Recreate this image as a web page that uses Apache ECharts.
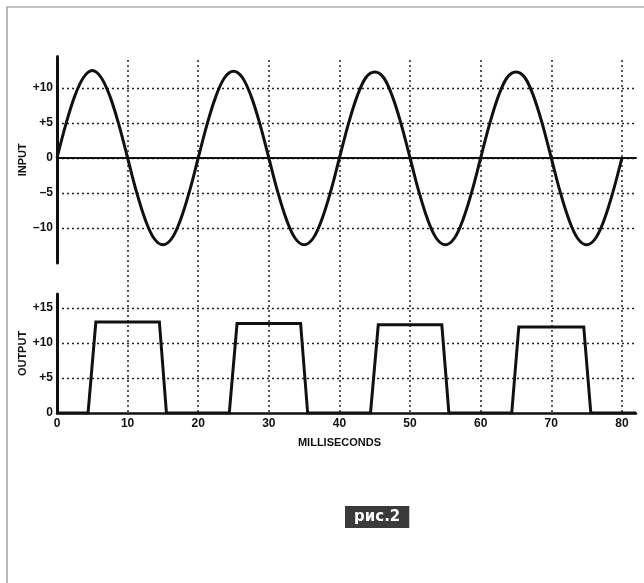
<!DOCTYPE html>
<html>
<head>
<meta charset="utf-8">
<script src="https://cdn.jsdelivr.net/npm/echarts@6/dist/echarts.min.js"></script>
<style>
  html, body { margin: 0; padding: 0; background: #fff; }
  #chart { width: 644px; height: 583px; }
</style>
</head>
<body>
<div id="chart"></div>
<script>
// input signal (ms, volts)
const inputTime = [
  0, 1.25, 2.5, 3.75, 5, 6.25, 7.5, 8.75, 10, 11.25, 12.5, 13.75, 15, 16.25, 17.5, 18.75,
  20, 21.25, 22.5, 23.75, 25, 26.25, 27.5, 28.75, 30, 31.25, 32.5, 33.75, 35, 36.25, 37.5, 38.75,
  40, 41.25, 42.5, 43.75, 45, 46.25, 47.5, 48.75, 50, 51.25, 52.5, 53.75, 55, 56.25, 57.5, 58.75,
  60, 61.25, 62.5, 63.75, 65, 66.25, 67.5, 68.75, 70, 71.25, 72.5, 73.75, 75, 76.25, 77.5, 78.75,
  80
]
const inputValue = [
  0, 4.8, 8.8, 11.5, 12.5, 11.5, 8.8, 4.8, 0, -4.8, -8.8, -11.5, -12.4, -11.5, -8.8, -4.8,
  0, 4.8, 8.8, 11.5, 12.4, 11.5, 8.8, 4.8, 0, -4.8, -8.8, -11.5, -12.4, -11.5, -8.8, -4.8,
  0, 4.8, 8.8, 11.5, 12.3, 11.5, 8.8, 4.8, 0, -4.8, -8.8, -11.5, -12.4, -11.5, -8.8, -4.8,
  0, 4.8, 8.8, 11.5, 12.3, 11.5, 8.8, 4.8, 0, -4.8, -8.8, -11.5, -12.4, -11.5, -8.8, -4.8,
  0
]

// output signal, bottom panel
const outputTime = [0, 4.4, 5.5, 14.5, 15.5, 24.4, 25.5, 34.5, 35.5, 44.4, 45.5, 54.5, 55.5, 64.4, 65.4, 74.6, 75.6, 82]
const outputValue = [0, 0, 13, 13, 0, 0, 12.8, 12.8, 0, 0, 12.6, 12.6, 0, 0, 12.3, 12.3, 0, 0]

const inputTicks = [-10, -5, 0, 5, 10]
const outputTicks = [0, 5, 10, 15]
const timeTicks = [0, 10, 20, 30, 40, 50, 60, 70, 80]

const font = 'Liberation Sans'
const ink = '#111'

function signed(v) {
  if (v > 0) return '+' + v
  if (v < 0) return '–' + Math.abs(v)
  return '0'
}
function pairs(xs, ys) {
  return xs.map((x, i) => [x, ys[i]])
}

const chart = echarts.init(document.getElementById('chart'))

const dotted = { color: '#222', width: 1.5, type: [2, 3] }
const nameStyle = { color: ink, fontFamily: font, fontWeight: 'bold', fontSize: 11 }
const tickStyle = { color: ink, fontFamily: font, fontWeight: 'bold', fontSize: 12 }

chart.setOption({
  animation: false,
  grid: [
    { left: 57, right: 8, top: 56.5, bottom: 320 },
    { left: 57, right: 8, top: 294, bottom: 170 },
    { left: 57, right: 8, top: 60, bottom: 170 }
  ],
  xAxis: [
    {
      gridIndex: 0, type: 'value', min: 0, max: 82, interval: 10,
      axisLine: { onZero: true, lineStyle: { color: ink, width: 2 } },
      axisTick: { show: false }, axisLabel: { show: false }, splitLine: { show: false }
    },
    {
      gridIndex: 1, type: 'value', min: 0, max: 82, interval: 10,
      name: 'MILLISECONDS', nameLocation: 'middle', nameGap: 24,
      nameTextStyle: Object.assign({ padding: [0, 14, 0, 0] }, nameStyle),
      axisLine: { lineStyle: { color: ink, width: 2.5 } },
      axisTick: { show: false },
      axisLabel: Object.assign({
        margin: 5,
        formatter: v => timeTicks.includes(v) ? String(v) : ''
      }, tickStyle),
      splitLine: { show: false }
    },
    {
      gridIndex: 2, type: 'value', min: 0, max: 82, interval: 10,
      axisLine: { show: false }, axisTick: { show: false }, axisLabel: { show: false },
      splitLine: { show: true, showMinLine: false, showMaxLine: false, lineStyle: dotted }
    }
  ],
  yAxis: [
    {
      gridIndex: 0, type: 'value', min: -15, max: 14.5, interval: 5,
      name: 'INPUT', nameLocation: 'middle', nameGap: 29, nameRotate: 90, nameMoveOverlap: false,
      nameTextStyle: nameStyle,
      axisLine: { show: true, onZero: false, lineStyle: { color: ink, width: 3 } },
      axisTick: { show: false },
      axisLabel: Object.assign({
        margin: 4,
        formatter: v => inputTicks.includes(v) ? signed(v) : ''
      }, tickStyle),
      splitLine: {
        show: true, showMinLine: false, showMaxLine: false,
        lineStyle: { color: '#222', width: 1.3, type: [2, 3] }
      }
    },
    {
      gridIndex: 1, type: 'value', min: 0, max: 17, interval: 5,
      name: 'OUTPUT', nameLocation: 'middle', nameGap: 29, nameRotate: 90, nameMoveOverlap: false,
      nameTextStyle: nameStyle,
      axisLine: { show: true, onZero: false, lineStyle: { color: ink, width: 3 } },
      axisTick: { show: false },
      axisLabel: Object.assign({
        margin: 4,
        formatter: v => outputTicks.includes(v) ? signed(v) : ''
      }, tickStyle),
      splitLine: {
        show: true, showMinLine: false, showMaxLine: false,
        lineStyle: { color: '#222', width: 1.3, type: [2, 3] }
      }
    },
    {
      gridIndex: 2, type: 'value', min: 0, max: 1, show: false
    }
  ],
  series: [
    {
      type: 'line', xAxisIndex: 2, yAxisIndex: 2, data: [], silent: true
    },
    {
      type: 'line', xAxisIndex: 0, yAxisIndex: 0, z: 5,
      data: pairs(inputTime, inputValue),
      smooth: 0.35, showSymbol: false,
      lineStyle: { color: ink, width: 3 }
    },
    {
      type: 'line', xAxisIndex: 1, yAxisIndex: 1, z: 5,
      data: pairs(outputTime, outputValue),
      showSymbol: false,
      lineStyle: { color: ink, width: 3, join: 'miter' }
    }
  ],
  graphic: [
    {
      type: 'polyline', silent: true,
      shape: { points: [[7, 583], [7, 7], [644, 7]] },
      style: { stroke: '#8a8a8a', lineWidth: 1.2, fill: null }
    },
    {
      type: 'text', left: 345, top: 506, silent: true,
      style: {
        text: 'рис.2', fill: '#fff', font: 'bold 15px "DejaVu Sans"',
        backgroundColor: '#3a3a3a', padding: [4, 9, 3, 9]
      }
    }
  ]
})
</script>
</body>
</html>
